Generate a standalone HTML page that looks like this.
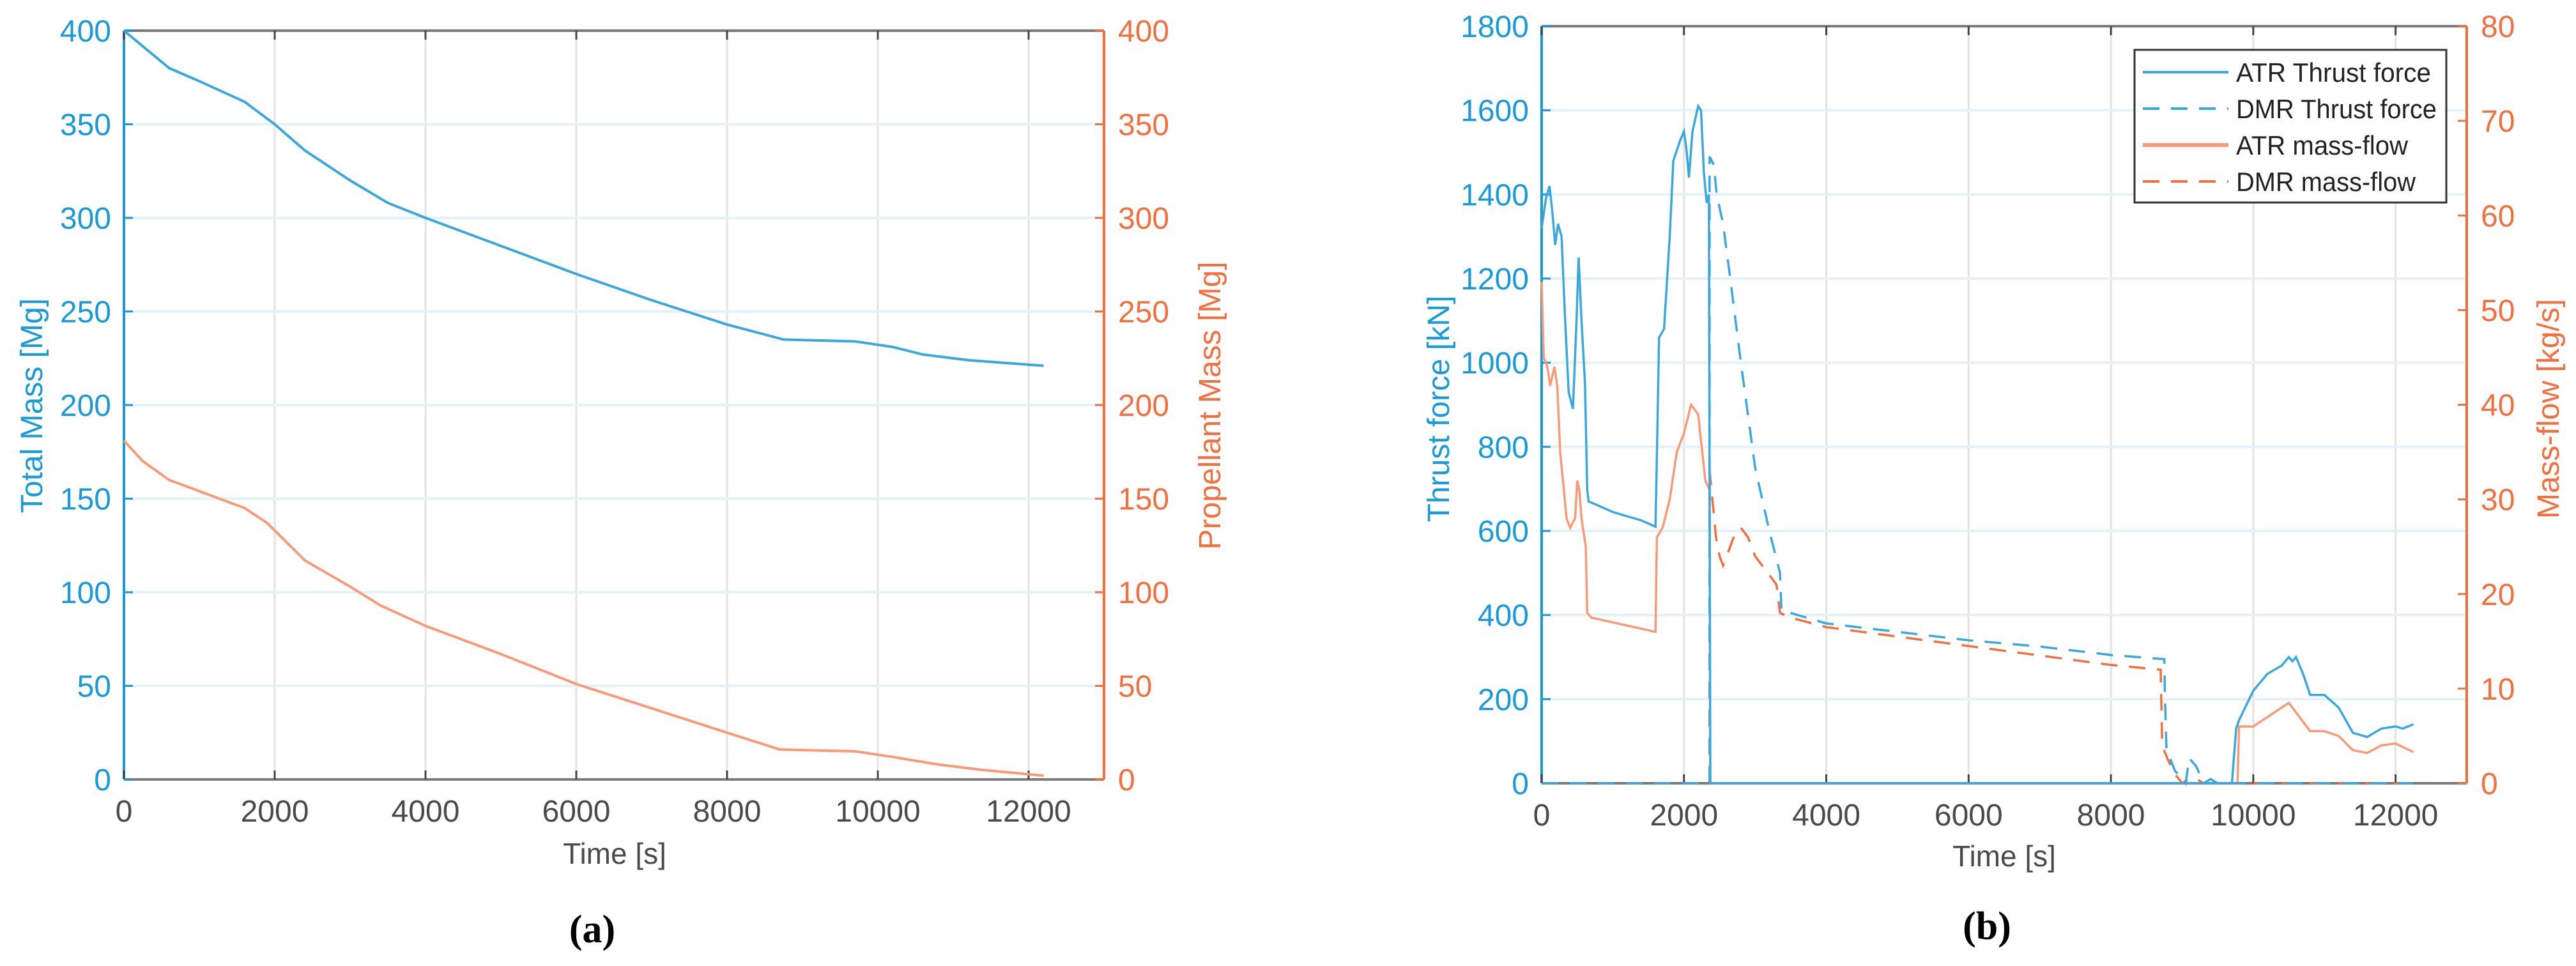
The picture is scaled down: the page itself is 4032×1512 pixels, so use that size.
<!DOCTYPE html>
<html><head><meta charset="utf-8">
<style>
html,body{margin:0;padding:0;background:#fff;}
svg{display:block;font-family:"Liberation Sans",Arial,sans-serif;}
</style></head>
<body>
<svg id="fig" width="4032" height="1512" viewBox="0 0 4032 1512" xmlns="http://www.w3.org/2000/svg">
<g id="chartA"></g>
<g id="chartB"></g>
</svg>
<script>
// ---- Chart (a) data ----
const timeTicks = [0, 2000, 4000, 6000, 8000, 10000, 12000];
const massTicks = [0, 50, 100, 150, 200, 250, 300, 350, 400];
const totalMassT = [0,300,600,1000,1600,2000,2400,3000,3500,4000,5000,6000,7000,8000,8750,9700,10200,10600,11200,12200];
const totalMassV = [400,390,380,373,362,350,336,320,308,300,285,270,256,243,235,234,231,227,224,221];
const propMassT = [0,250,600,1000,1600,1900,2400,3000,3400,4000,5000,6000,7000,8000,8700,9700,10200,10800,11400,12200];
const propMassV = [181,170,160,154,145,137,117,103,93,82,67,51,38,25,16,15,12,8,5,2];

// ---- Chart (b) data ----
const thrustTicks = [0,200,400,600,800,1000,1200,1400,1600,1800];
const flowTicks = [0,10,20,30,40,50,60,70,80];
const atrThrustT = [0,60,110,150,190,230,280,330,380,440,490,520,560,610,640,660,800,1000,1200,1400,1600,1620,1650,1720,1800,1850,1950,2000,2040,2070,2120,2200,2240,2280,2320,2350,2360,2370,9700,9760,9800,10000,10200,10400,10500,10550,10600,10700,10800,11000,11200,11400,11600,11800,12000,12100,12250];
const atrThrustV = [1320,1390,1420,1360,1280,1330,1300,1100,930,890,1100,1250,1100,950,700,670,660,645,635,625,610,780,1060,1080,1300,1480,1530,1550,1500,1440,1550,1610,1600,1450,1380,1400,700,0,0,130,150,220,260,280,300,290,300,260,210,210,180,120,110,130,135,130,140];
const dmrThrustT = [0,2360,2360,2420,2460,2550,2650,2800,3000,3200,3350,3370,3500,4000,5000,6000,7000,8000,8750,8760,8780,8900,9050,9100,9200,9300,9400,9500,12250];
const dmrThrustV = [0,0,1490,1470,1400,1330,1200,1000,750,600,500,410,405,380,360,340,325,305,295,200,80,30,0,60,40,0,10,0,0];
const atrFlowT = [0,30,80,120,180,220,260,300,350,400,470,500,530,560,620,640,700,1000,1300,1600,1620,1700,1800,1900,2000,2100,2200,2300,2360,2370,9780,9800,10000,10200,10400,10500,10600,10700,10800,11000,11200,11400,11600,11800,12000,12250];
const atrFlowV = [53,45,44,42,44,42,35,32,28,27,28,32,31,28,25,18,17.5,17,16.5,16,26,27,30,35,37,40,39,32,31,0,0,6,6,7,8,8.5,7.5,6.5,5.5,5.5,5,3.5,3.2,4,4.2,3.3];
const dmrFlowT = [0,2360,2360,2400,2450,2500,2550,2600,2700,2800,2900,3000,3200,3300,3350,3500,4000,5000,6000,7000,8000,8700,8720,8800,8900,9000,9100,9200,9300,12250];
const dmrFlowV = [0,0,33,30,26,24,23,24,26,27,26,24,22,21,18,17.5,16.5,15.5,14.5,13.5,12.5,12,4,2.5,1,0,0.5,0.5,0,0];

const NS = "http://www.w3.org/2000/svg";
const BLUE = "#1a9ad6", ORANGE = "#f2703f", BLUE_LINE = "#3aa8de", ORANGE_LINE = "#f89a78";
function mk(parent, tag, attrs, text){
  const e = document.createElementNS(NS, tag);
  for (const k in attrs) e.setAttribute(k, attrs[k]);
  if (text !== undefined) e.textContent = text;
  parent.appendChild(e);
  return e;
}
function pathD(ts, vs, sx, sy){
  return ts.map((t,i)=>(i?"L":"M")+sx(t).toFixed(1)+","+sy(vs[i]).toFixed(1)).join(" ");
}
function axes(g, box, xmax, lTicks, lmax, rTicks, rmax){
  const sx = t => box.x0 + t/xmax*(box.x1-box.x0);
  const syL = v => box.y1 - v/lmax*(box.y1-box.y0);
  const syR = v => box.y1 - v/rmax*(box.y1-box.y0);
  timeTicks.forEach(t=>{ if(t>0){
    const l = mk(g,"line",{x1:sx(t),x2:sx(t),y1:box.y0,y2:box.y1,stroke:"#e2e2e2","stroke-width":3});
    
    
  }});
  lTicks.forEach(v=>{ if(v>0 && v<lmax){
    const l = mk(g,"line",{x1:box.x0,x2:box.x1,y1:syL(v),y2:syL(v),stroke:"#e3f1f9","stroke-width":4});
    
    
  }});
  mk(g,"line",{x1:box.x0,x2:box.x1,y1:box.y0,y2:box.y0,stroke:"#7a7a7a","stroke-width":4});
  mk(g,"line",{x1:box.x0,x2:box.x1,y1:box.y1,y2:box.y1,stroke:"#7a7a7a","stroke-width":4});
  mk(g,"line",{x1:box.x0,x2:box.x0,y1:box.y0,y2:box.y1,stroke:BLUE,"stroke-width":4});
  mk(g,"line",{x1:box.x1,x2:box.x1,y1:box.y0,y2:box.y1,stroke:ORANGE,"stroke-width":4});
  timeTicks.forEach(t=>{
    mk(g,"line",{x1:sx(t),x2:sx(t),y1:box.y1,y2:box.y1-14,stroke:"#444","stroke-width":3});
    mk(g,"line",{x1:sx(t),x2:sx(t),y1:box.y0,y2:box.y0+14,stroke:"#444","stroke-width":3});
    const tx = mk(g,"text",{x:sx(t),y:box.y1+66,"font-size":48,fill:"#4a4a4a","text-anchor":"middle"},String(t));
    
    
  });
  lTicks.forEach(v=>{
    mk(g,"line",{x1:box.x0,x2:box.x0+14,y1:syL(v),y2:syL(v),stroke:BLUE,"stroke-width":3});
    const tx = mk(g,"text",{x:box.x0-20,y:syL(v)+17,"font-size":48,fill:BLUE,"text-anchor":"end"},String(v));
    
    
  });
  rTicks.forEach(v=>{
    mk(g,"line",{x1:box.x1,x2:box.x1-14,y1:syR(v),y2:syR(v),stroke:ORANGE,"stroke-width":3});
    const tx = mk(g,"text",{x:box.x1+22,y:syR(v)+17,"font-size":48,fill:ORANGE,"text-anchor":"start"},String(v));
    
    
  });
  return {sx, syL, syR};
}

// ---- Chart (a) ----
(function(){
  const g = document.getElementById("chartA");
  const box = {x0:194,x1:1728,y0:48,y1:1220};
  const s = axes(g, box, 13000, massTicks, 400, massTicks, 400);
  const p1 = mk(g,"path",{d:pathD(totalMassT,totalMassV,s.sx,s.syL),fill:"none",stroke:BLUE_LINE,"stroke-width":4});
  
  
  const p2 = mk(g,"path",{d:pathD(propMassT,propMassV,s.sx,s.syR),fill:"none",stroke:ORANGE_LINE,"stroke-width":4});
  
  
  let t;
  t = mk(g,"text",{x:962,y:1352,"font-size":46,fill:"#4a4a4a","text-anchor":"middle"},"Time [s]");
   
  t = mk(g,"text",{x:0,y:0,"font-size":48,fill:BLUE,"text-anchor":"middle",transform:"translate(66,635) rotate(-90)"},"Total Mass [Mg]");
   
  t = mk(g,"text",{x:0,y:0,"font-size":48,fill:ORANGE,"text-anchor":"middle",transform:"translate(1910,635) rotate(-90)"},"Propellant Mass [Mg]");
   
  t = mk(g,"text",{x:927,y:1475,"font-size":62,"font-weight":"bold",fill:"#000","text-anchor":"middle","font-family":"Liberation Serif, serif"},"(a)");
   
})();

// ---- Chart (b) ----
(function(){
  const g = document.getElementById("chartB");
  const box = {x0:2413,x1:3861,y0:41,y1:1226};
  const s = axes(g, box, 13000, thrustTicks, 1800, flowTicks, 80);
  const lines = [
    [atrFlowT,atrFlowV,s.syR,ORANGE_LINE,null,'atr-mass-flow-line'],
    [dmrFlowT,dmrFlowV,s.syR,ORANGE,"26 18",'dmr-mass-flow-line'],
    [dmrThrustT,dmrThrustV,s.syL,BLUE_LINE,"26 18",'dmr-thrust-line'],
    [atrThrustT,atrThrustV,s.syL,BLUE_LINE,null,'atr-thrust-line']
  ];
  lines.forEach(L=>{
    const a = {d:pathD(L[0],L[1],s.sx,L[2]),fill:"none",stroke:L[3],"stroke-width":3.5};
    if (L[4]) a["stroke-dasharray"] = L[4];
    const p = mk(g,"path",a);
    
    
  });
  const lg = mk(g,"g",{});
  
  
  mk(lg,"rect",{x:3341,y:78,width:488,height:239,fill:"#fff",stroke:"#333","stroke-width":3});
  const names = ["ATR Thrust force","DMR Thrust force","ATR mass-flow","DMR mass-flow"];
  const widths = [305,314,269,281];
  const cols = [BLUE_LINE,BLUE_LINE,ORANGE_LINE,ORANGE];
  const dash = [null,"26 18",null,"26 18"];
  names.forEach((n,i)=>{
    const y = 113 + i*57;
    const la = {x1:3354,x2:3488,y1:y,y2:y,stroke:cols[i],"stroke-width":i===2?6:4};
    if (dash[i]) la["stroke-dasharray"] = dash[i];
    const ln = mk(lg,"line",la);
    
    
    const tx = mk(lg,"text",{x:3500,y:y+15,"font-size":42,fill:"#222",textLength:widths[i],lengthAdjust:"spacingAndGlyphs"},n);
    
    
  });
  let t;
  t = mk(g,"text",{x:3137,y:1356,"font-size":46,fill:"#4a4a4a","text-anchor":"middle"},"Time [s]");
   
  t = mk(g,"text",{x:0,y:0,"font-size":48,fill:BLUE,"text-anchor":"middle",transform:"translate(2268,640) rotate(-90)"},"Thrust force [kN]");
   
  t = mk(g,"text",{x:0,y:0,"font-size":48,fill:ORANGE,"text-anchor":"middle",transform:"translate(4005,640) rotate(-90)"},"Mass-flow  [kg/s]");
   
  t = mk(g,"text",{x:3110,y:1470,"font-size":62,"font-weight":"bold",fill:"#000","text-anchor":"middle","font-family":"Liberation Serif, serif"},"(b)");
   
})();
</script>
</body></html>
